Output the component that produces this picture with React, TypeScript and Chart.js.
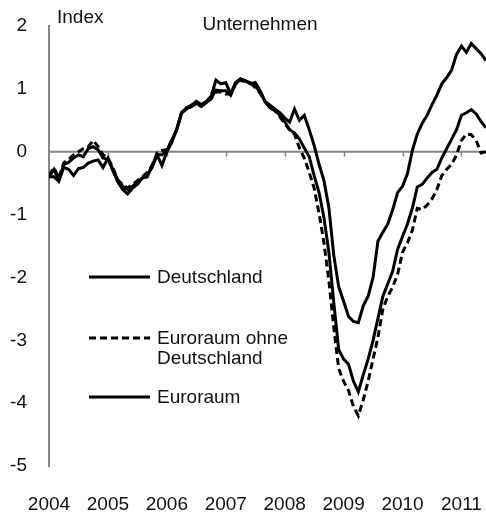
import React, { useEffect, useRef } from "react";
import { Chart, registerables } from "chart.js";

Chart.register(...registerables);

const startYear = 2004;
const yearTicks = [2004, 2005, 2006, 2007, 2008, 2009, 2010, 2011];
const yTicks = [-5, -4, -3, -2, -1, 0, 1, 2];

const titleText = "Unternehmen";
const unitText = "Index";

const deutschland = [
  -0.40, -0.40, -0.47, -0.25, -0.28, -0.38, -0.27, -0.25, -0.18, -0.15, -0.13, -0.25,
  -0.10, -0.30, -0.48, -0.60, -0.67, -0.58, -0.52, -0.42, -0.40, -0.22, -0.05, -0.22,
  0.00, 0.15, 0.35, 0.62, 0.70, 0.74, 0.80, 0.75, 0.80, 0.88, 1.14, 1.08,
  1.10, 0.92, 1.10, 1.16, 1.13, 1.08, 1.10, 0.97, 0.80, 0.74, 0.68, 0.62,
  0.54, 0.47, 0.68, 0.50, 0.58, 0.35, 0.10, -0.20, -0.46, -0.89, -1.65, -2.15,
  -2.38, -2.62, -2.70, -2.72, -2.45, -2.30, -2.00, -1.42, -1.28, -1.15, -0.92, -0.65,
  -0.55, -0.35, 0.02, 0.28, 0.45, 0.58, 0.75, 0.90, 1.08, 1.18, 1.30, 1.55,
  1.68, 1.58, 1.72, 1.64, 1.56, 1.45,
];

const euroraumOhneDeutschland = [
  -0.38, -0.25, -0.42, -0.18, -0.12, -0.05, 0.00, 0.05, 0.08, 0.18, 0.08, -0.05,
  -0.10, -0.25, -0.45, -0.52, -0.58, -0.52, -0.46, -0.40, -0.33, -0.22, -0.02, 0.02,
  0.03, 0.18, 0.35, 0.62, 0.68, 0.72, 0.76, 0.72, 0.78, 0.84, 0.95, 0.95,
  0.92, 0.92, 1.08, 1.13, 1.12, 1.10, 1.02, 0.93, 0.80, 0.70, 0.65, 0.56,
  0.45, 0.35, 0.28, 0.06, -0.10, -0.33, -0.58, -0.98, -1.45, -2.05, -2.80, -3.45,
  -3.65, -3.80, -4.05, -4.20, -3.95, -3.65, -3.30, -2.95, -2.50, -2.30, -2.15, -1.95,
  -1.60, -1.45, -1.25, -0.90, -0.92, -0.85, -0.75, -0.60, -0.38, -0.28, -0.20, -0.05,
  0.18, 0.28, 0.27, 0.18, -0.02, 0.00,
];

const euroraum = [
  -0.40, -0.28, -0.45, -0.20, -0.17, -0.10, -0.05, -0.08, 0.05, 0.08, 0.03, -0.10,
  -0.12, -0.28, -0.45, -0.55, -0.60, -0.55, -0.48, -0.42, -0.36, -0.25, -0.05, -0.05,
  0.02, 0.18, 0.35, 0.62, 0.68, 0.72, 0.77, 0.73, 0.78, 0.85, 0.98, 0.97,
  0.97, 0.90, 1.08, 1.15, 1.12, 1.10, 1.05, 0.95, 0.80, 0.70, 0.66, 0.58,
  0.48, 0.35, 0.30, 0.20, 0.06, -0.08, -0.38, -0.65, -1.05, -1.60, -2.40, -3.15,
  -3.30, -3.38, -3.65, -3.82, -3.55, -3.30, -3.00, -2.65, -2.30, -2.10, -1.90, -1.55,
  -1.35, -1.15, -0.90, -0.56, -0.52, -0.42, -0.33, -0.28, -0.10, 0.05, 0.20, 0.35,
  0.58, 0.62, 0.67, 0.60, 0.48, 0.38,
];

const FONT = "'Liberation Sans', Arial, sans-serif";
const FONT_SIZE = 19;
const TEXT = "#111111";
const AXIS = "#868686";

const toPoints = (arr: number[]) => arr.map((v, i) => ({ x: startYear + i / 12, y: v }));

const decorPlugin = {
  id: "decor",
  beforeDatasetsDraw(chart: any) {
    const { ctx, chartArea, scales } = chart;
    const x = scales.x;
    const y = scales.y;
    const y0 = y.getPixelForValue(0);
    ctx.save();
    ctx.strokeStyle = AXIS;
    ctx.lineWidth = 2;
    ctx.beginPath();
    ctx.moveTo(chartArea.left, y0);
    ctx.lineTo(chartArea.right, y0);
    ctx.stroke();
    ctx.lineWidth = 1.5;
    yearTicks.forEach((yr) => {
      if (yr === startYear) return;
      const px = Math.round(x.getPixelForValue(yr)) + 0.5;
      ctx.beginPath();
      ctx.moveTo(px, y0);
      ctx.lineTo(px, y0 + 5);
      ctx.stroke();
    });
    ctx.restore();
  },
  afterDraw(chart: any) {
    const { ctx } = chart;
    ctx.save();
    ctx.fillStyle = TEXT;
    ctx.font = `${FONT_SIZE}px ${FONT}`;
    ctx.textBaseline = "middle";
    ctx.textAlign = "left";
    ctx.fillText(unitText, 57, 18);
    ctx.textAlign = "center";
    ctx.fillText(titleText, 260, 25);

    const items = [
      { label: ["Deutschland"], y: 277, dash: [] as number[] },
      { label: ["Euroraum ohne", "Deutschland"], y: 338, dash: [7, 4] },
      { label: ["Euroraum"], y: 397, dash: [] as number[] },
    ];
    items.forEach((it) => {
      ctx.strokeStyle = "#000";
      ctx.lineWidth = 3;
      ctx.setLineDash(it.dash);
      ctx.beginPath();
      ctx.moveTo(89, it.y);
      ctx.lineTo(150, it.y);
      ctx.stroke();
      ctx.setLineDash([]);
      ctx.textAlign = "left";
      it.label.forEach((t, k) => ctx.fillText(t, 157, it.y + 1 + k * 20));
    });
    ctx.restore();
  },
};

export default function App() {
  const ref = useRef<HTMLCanvasElement | null>(null);
  useEffect(() => {
    if (!ref.current) return;
    const chart = new Chart(ref.current, {
      type: "line",
      data: {
        datasets: [
          {
            label: "Euroraum ohne Deutschland",
            data: toPoints(euroraumOhneDeutschland),
            borderColor: "#000",
            borderWidth: 3,
            borderDash: [7, 4],
            pointRadius: 0,
            tension: 0,
            fill: false,
          },
          {
            label: "Euroraum",
            data: toPoints(euroraum),
            borderColor: "#000",
            borderWidth: 3,
            pointRadius: 0,
            tension: 0,
            fill: false,
          },
          {
            label: "Deutschland",
            data: toPoints(deutschland),
            borderColor: "#000",
            borderWidth: 3,
            pointRadius: 0,
            tension: 0,
            fill: false,
          },
        ],
      },
      options: {
        animation: false,
        responsive: true,
        maintainAspectRatio: false,
        layout: { padding: { top: 26, right: 0, left: 0, bottom: 0 } },
        plugins: { legend: { display: false }, tooltip: { enabled: false }, title: { display: false } },
        scales: {
          x: {
            type: "linear",
            min: startYear,
            max: startYear + 89 / 12,
            border: { display: false },
            grid: { display: false, drawTicks: false, tickLength: 0 },
            afterBuildTicks: (scale: any) => {
              scale.ticks = yearTicks.map((v) => ({ value: v }));
            },
            afterFit: (scale: any) => {
              scale.height = 48;
              scale.paddingLeft = 0;
              scale.paddingRight = 0;
            },
            ticks: {
              autoSkip: false,
              maxRotation: 0,
              minRotation: 0,
              padding: 27,
              color: TEXT,
              font: { family: FONT, size: FONT_SIZE },
              callback: (v: any) => String(v),
            },
          },
          y: {
            min: -5,
            max: 2,
            border: { display: true, color: AXIS, width: 2 },
            grid: { display: false, drawTicks: false, tickLength: 0 },
            afterBuildTicks: (scale: any) => {
              scale.ticks = yTicks.map((v) => ({ value: v }));
            },
            afterFit: (scale: any) => {
              scale.width = 49;
              scale.paddingTop = 0;
              scale.paddingBottom = 0;
            },
            ticks: {
              padding: 22,
              color: TEXT,
              font: { family: FONT, size: FONT_SIZE },
              callback: (v: any) => String(v),
            },
          },
        },
      },
      plugins: [decorPlugin],
    } as any);
    return () => chart.destroy();
  }, []);
  return (
    <div style={{ position: "absolute", left: 0, top: 0, width: 486, height: 514, background: "#fff" }}>
      <canvas ref={ref} />
    </div>
  );
}
